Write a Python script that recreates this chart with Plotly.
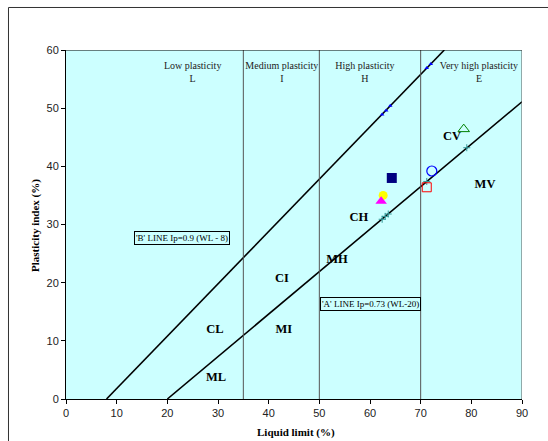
import plotly.graph_objects as go

# Reference lines
b_line_x = [8, 74.67]
b_line_y = [0, 60]
a_line_x = [20, 90]
a_line_y = [0, 51.1]

# Plasticity boundaries
boundaries = [35, 50, 70]

# Soil sample points
sq_x, sq_y = [64.3], [38.0]
yc_x, yc_y = [62.6], [35.0]
mt_x, mt_y = [62.2], [34.0]
bo_x, bo_y = [72.2], [39.2]
rs_x, rs_y = [71.2], [36.4]
gt_x, gt_y = [78.5], [46.4]

# small points on lines
bpts_x = [62.4, 63.2, 64.0, 71.2, 72.0]
bpts_y = [48.9, 49.6, 50.4, 56.9, 57.6]
apts_x = [62.4, 63.0, 63.6, 71.2, 79.1]
apts_y = [30.9, 31.4, 31.8, 37.4, 43.2]

# zone labels
zone_txt = ["CV", "MV", "CH", "MH", "CI", "CL", "MI", "ML"]
zone_x = [76.2, 82.7, 57.8, 53.5, 42.6, 29.4, 43.0, 29.6]
zone_y = [45.0, 36.8, 31.1, 24.0, 20.6, 11.9, 11.9, 3.6]

plast_txt = ["Low plasticity<br>L", "Medium plasticity<br>I", "High plasticity<br>H", "Very high plasticity<br>E"]
plast_x = [25.0, 42.6, 59.0, 81.5]
plast_y = [56.0, 56.0, 56.0, 56.0]

fig = go.Figure()

fig.add_trace(go.Scatter(x=b_line_x, y=b_line_y, mode="lines", line=dict(color="black", width=1.6), hoverinfo="skip"))
fig.add_trace(go.Scatter(x=a_line_x, y=a_line_y, mode="lines", line=dict(color="black", width=1.6), hoverinfo="skip"))
fig.add_trace(go.Scatter(x=bpts_x, y=bpts_y, mode="markers",
                         marker=dict(symbol="triangle-up", size=4, color="#0000FF")))
fig.add_trace(go.Scatter(x=apts_x, y=apts_y, mode="markers",
                         marker=dict(symbol="cross-thin", size=5, line=dict(color="#339999", width=1))))

fig.add_trace(go.Scatter(x=sq_x, y=sq_y, mode="markers", marker=dict(symbol="square", size=10, color="#000080")))
fig.add_trace(go.Scatter(x=yc_x, y=yc_y, mode="markers", marker=dict(symbol="circle", size=9, color="#FFFF00")))
fig.add_trace(go.Scatter(x=mt_x, y=mt_y, mode="markers", marker=dict(symbol="triangle-up", size=10, color="#FF00FF")))
fig.add_trace(go.Scatter(x=bo_x, y=bo_y, mode="markers",
                         marker=dict(symbol="circle-open", size=10, color="#0000FF",
                                     line=dict(width=1.2, color="#0000FF"))))
fig.add_trace(go.Scatter(x=rs_x, y=rs_y, mode="markers",
                         marker=dict(symbol="square-open", size=9, color="#FF0000",
                                     line=dict(width=1, color="#FF0000"))))
fig.add_trace(go.Scatter(x=gt_x, y=gt_y, mode="markers",
                         marker=dict(symbol="triangle-up-open", size=10, color="#008000",
                                     line=dict(width=1, color="#008000"))))

fig.add_trace(go.Scatter(x=zone_x, y=zone_y, mode="text", text=zone_txt,
                         textfont=dict(family="Liberation Serif", size=12.5, color="black"),
                         texttemplate="<b>%{text}</b>"))
fig.add_trace(go.Scatter(x=plast_x, y=plast_y, mode="text", text=plast_txt,
                         textfont=dict(family="Liberation Serif", size=10, color="#222")))

for b in boundaries:
    fig.add_shape(type="line", x0=b, x1=b, y0=0, y1=60, xref="x", yref="y",
                  line=dict(color="#555555", width=1))

# plot area border top and right
fig.add_shape(type="line", x0=0, x1=90, y0=60, y1=60, xref="x", yref="y", line=dict(color="black", width=1))
fig.add_shape(type="line", x0=90, x1=90, y0=0, y1=60, xref="x", yref="y", line=dict(color="#555555", width=1))

# outer chart frame (left edge at ~8px, top edge at ~7px)
fig.add_shape(type="line", x0=-0.1261, x1=-0.1261, y0=1.1218, y1=-0.2, xref="paper", yref="paper",
              line=dict(color="#333", width=1))
fig.add_shape(type="line", x0=-0.1261, x1=1.07, y0=1.1218, y1=1.1218, xref="paper", yref="paper",
              line=dict(color="#333", width=1))

fig.add_annotation(x=22.9, y=27.7, xref="x", yref="y", text="'B' LINE Ip=0.9 (WL - 8)", showarrow=False,
                   font=dict(family="Liberation Serif", size=9, color="black"),
                   bordercolor="black", borderwidth=1, borderpad=1, bgcolor="#CCFFFF")
fig.add_annotation(x=60.0, y=16.3, xref="x", yref="y", text="'A' LINE Ip=0.73 (WL-20)", showarrow=False,
                   font=dict(family="Liberation Serif", size=9, color="black"),
                   bordercolor="black", borderwidth=1, borderpad=1, bgcolor="#CCFFFF")

# axis titles as annotations
fig.add_annotation(x=0.504, y=-0.0946, xref="paper", yref="paper", xanchor="center", yanchor="middle",
                   text="<b>Liquid limit (%)</b>",
                   showarrow=False, font=dict(family="Liberation Serif", size=11, color="black"))
fig.add_annotation(x=-0.0658, y=0.4986, xref="paper", yref="paper", xanchor="center", yanchor="middle",
                   text="<b>Plasticity index (%)</b>",
                   showarrow=False, textangle=-90, font=dict(family="Liberation Serif", size=11, color="black"))

fig.update_layout(
    width=548, height=441,
    margin=dict(l=66, r=26, t=50, b=42, autoexpand=False),
    paper_bgcolor="white", plot_bgcolor="#CCFFFF",
    showlegend=False,
    xaxis=dict(range=[0, 90], dtick=10, showgrid=False, zeroline=False, showline=True, linecolor="black",
               ticks="outside", ticklen=4, tickcolor="black", automargin=False,
               tickfont=dict(family="Liberation Sans", size=11, color="#222")),
    yaxis=dict(range=[0, 60], dtick=10, showgrid=False, zeroline=False, showline=True, linecolor="black",
               ticks="outside", ticklen=4, tickcolor="black", automargin=False,
               tickfont=dict(family="Liberation Sans", size=11, color="#222")),
)

fig.write_html("out.html", config={"displayModeBar": False},
               post_script="document.body.style.margin='0';document.body.style.overflow='hidden';")
